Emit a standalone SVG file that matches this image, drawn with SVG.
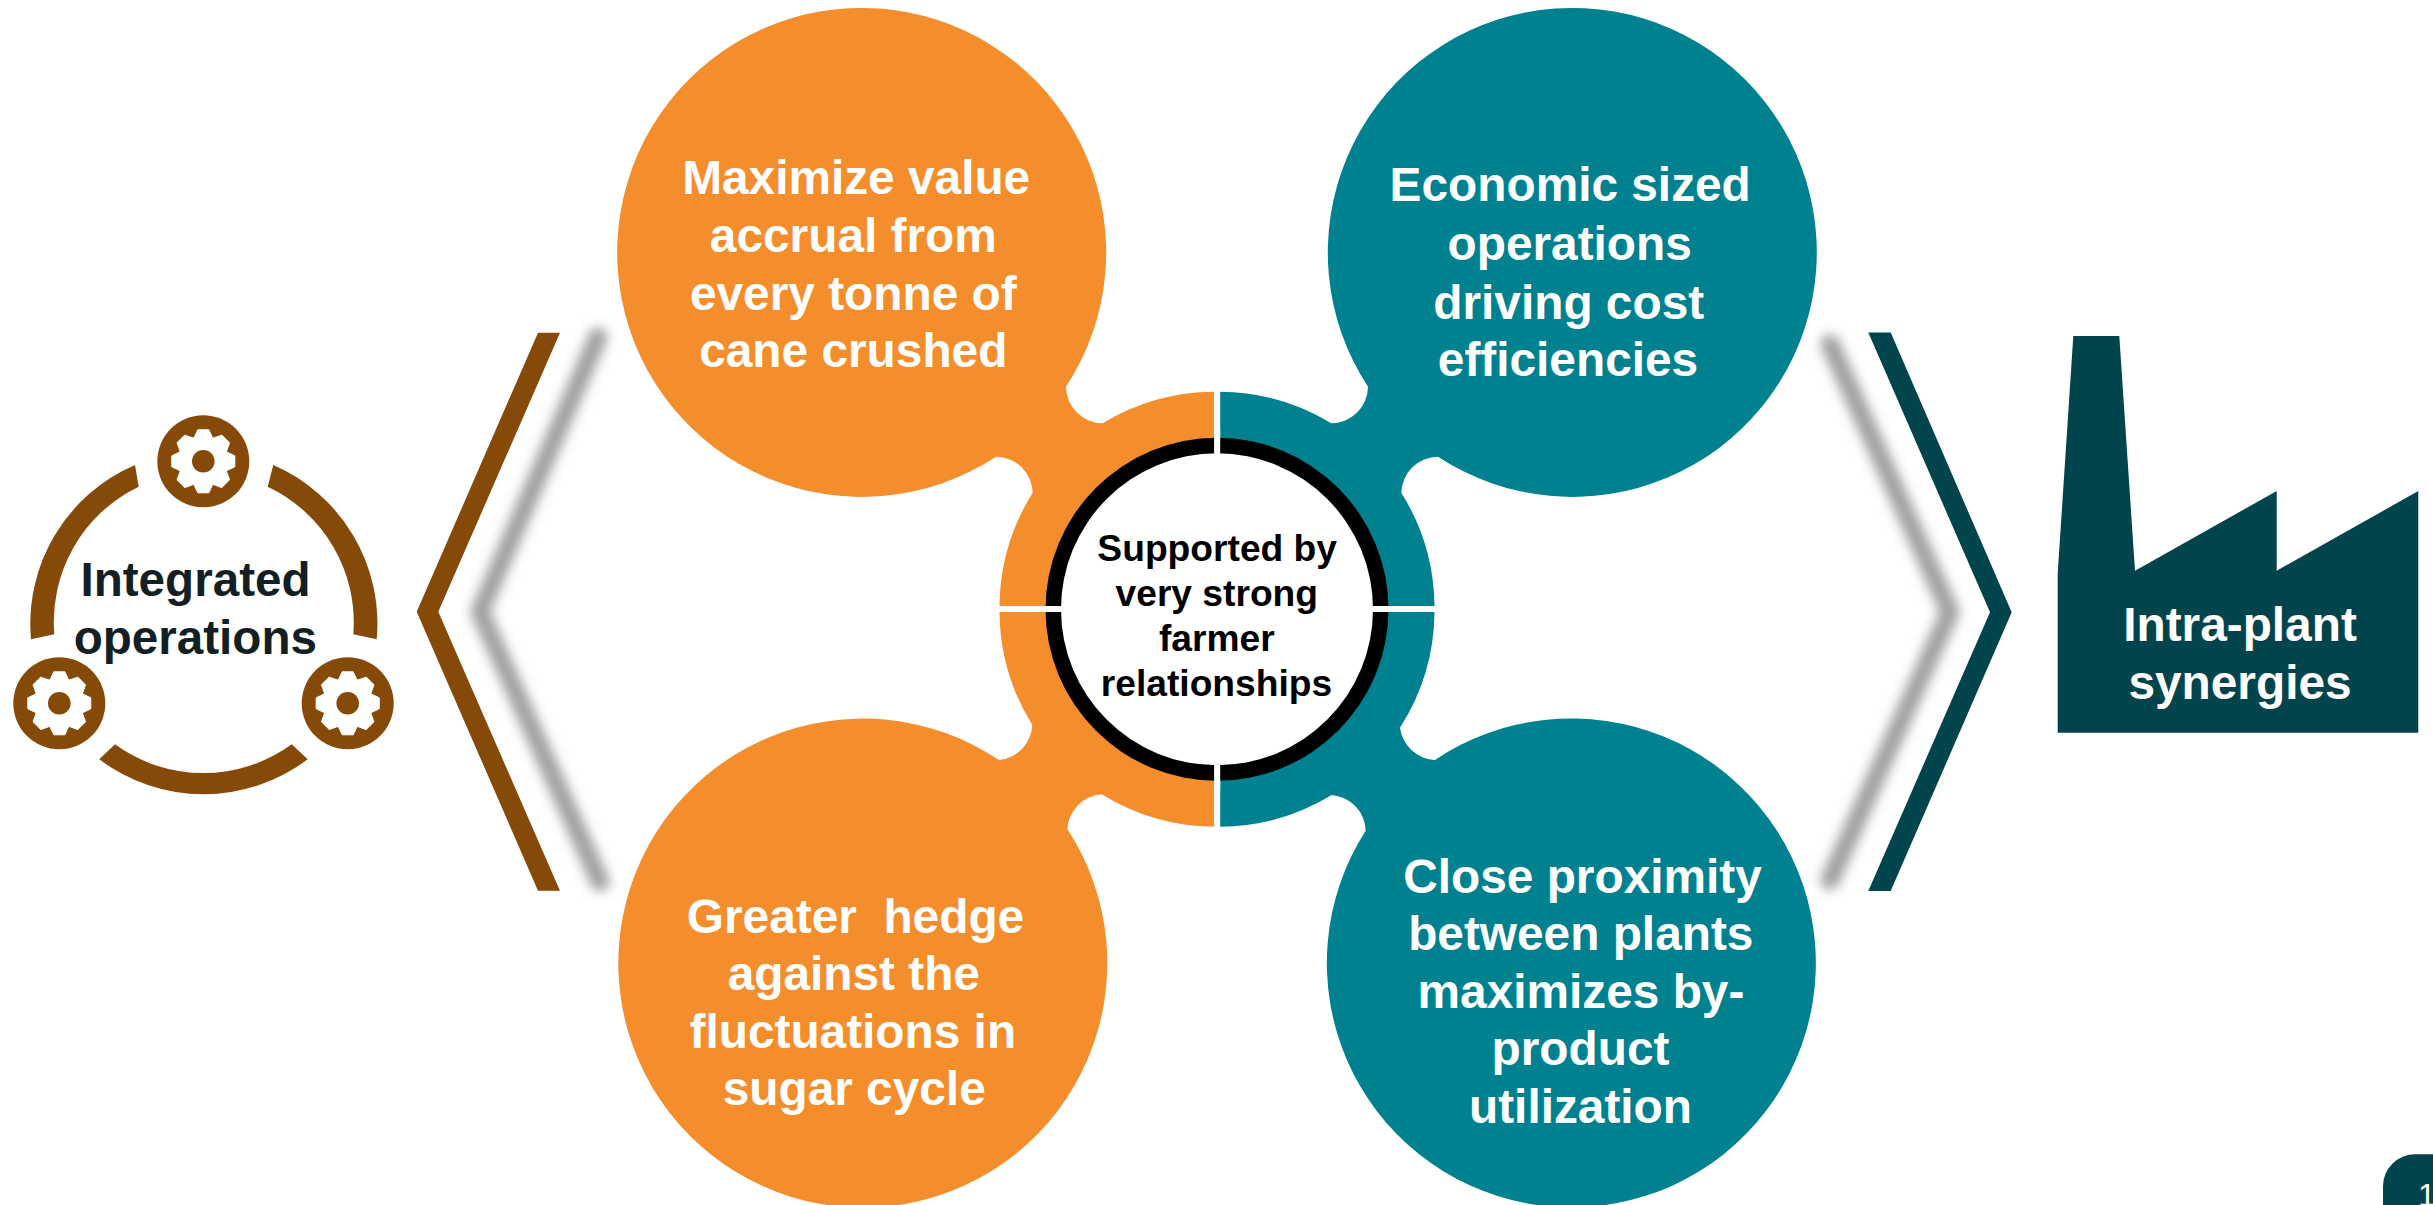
<svg xmlns="http://www.w3.org/2000/svg" xmlns:xlink="http://www.w3.org/1999/xlink" width="2433" height="1205" viewBox="0 0 2433 1205">
<style>
text{font-family:"Liberation Sans",Arial,sans-serif;font-weight:700;text-anchor:middle}
.lbl{font-size:47.8px;fill:#fff}
.hubt{font-size:37.2px;fill:#000}
.dark{font-size:47.6px;fill:#131f22}
.or{fill:#f48d2c}
.te{fill:#00818f}
.br{fill:#864a08}
.dk{fill:#02444b}
.sh{fill:none;stroke:#a0a0a0;stroke-width:19;stroke-linejoin:round;stroke-linecap:round;filter:url(#blur)}
</style>
<defs>
<filter id="blur" x="-30%" y="-10%" width="160%" height="120%"><feGaussianBlur stdDeviation="6"/></filter>
<path id="tooth" d="M-9.5,-23 L-5.5,-31.5 L5.5,-31.5 L9.5,-23Z" fill="#fff" stroke="#fff" stroke-width="1" stroke-linejoin="round"/>
<g id="gear">
<circle r="46" class="br"/>
<circle r="25.5" fill="#fff"/>
<use xlink:href="#tooth"/><use xlink:href="#tooth" transform="rotate(45)"/><use xlink:href="#tooth" transform="rotate(90)"/><use xlink:href="#tooth" transform="rotate(135)"/><use xlink:href="#tooth" transform="rotate(180)"/><use xlink:href="#tooth" transform="rotate(225)"/><use xlink:href="#tooth" transform="rotate(270)"/><use xlink:href="#tooth" transform="rotate(315)"/>
<circle r="11.3" class="br"/>
</g>
</defs>
<rect width="2433" height="1205" fill="#fff"/>

<g id="connectors">
<polyline class="sh" points="598,337 480,611.7 600,881.7"/>
<polyline class="sh" points="1830,344 1950,612 1830,880"/>
<polygon class="br" points="538,332.7 560,332.7 438.3,611.7 560,890.7 538,890.7 416.7,611.7"/>
<polygon class="dk" points="1868.3,332.5 1890.7,332.5 2011.7,612.3 1890.7,891 1868.3,891 1990,612.3"/>
</g>

<g id="integrated-operations">
<path class="br" d="M31,639.3 A172.8 172.8 0 0 1 135,465 L138.7,486.7 A150 150 0 0 0 54.3,634.3 Z"/>
<path class="br" d="M376.7,639.3 A172.8 172.8 0 0 0 273.3,465 L267.7,486.7 A150 150 0 0 1 353.3,634.3 Z"/>
<path class="br" d="M99.3,759.3 A172.8 172.8 0 0 0 307.7,759.3 L291.7,744.3 A150 150 0 0 1 115,744.3 Z"/>
<use xlink:href="#gear" x="203.3" y="461.3"/>
<use xlink:href="#gear" x="59.3" y="703.3"/>
<use xlink:href="#gear" x="347.7" y="703.3"/>
<text class="dark" x="195.5" y="596">Integrated</text>
<text class="dark" x="195.3" y="654.3">operations</text>
</g>

<g id="node-maximize">
<path class="or" d="M1214.1,391.8 A217.5 217.5 0 0 0 1102.7,423.3 A37 37 0 0 1 1066,386.7 A244.5 244.5 0 1 0 996,456.7 A37 37 0 0 1 1032.7,492.7 A217.5 217.5 0 0 0 999.5,606 L1214.1,606 Z"/>
<text class="lbl" x="856.2" y="193.5">Maximize value</text>
<text class="lbl" x="853.3" y="251.5">accrual from</text>
<text class="lbl" x="853.3" y="309.5">every tonne of</text>
<text class="lbl" x="853.3" y="367">cane crushed</text>
</g>

<g id="node-economic">
<path class="te" d="M1220.2,391.8 A217.5 217.5 0 0 1 1331.3,423.3 A37 37 0 0 0 1368,386.7 A244.5 244.5 0 1 1 1438,456.7 A37 37 0 0 0 1401.3,492.7 A217.5 217.5 0 0 1 1434.5,606 L1220.2,606 Z"/>
<text class="lbl" x="1570.2" y="200.5">Economic sized</text>
<text class="lbl" x="1569.7" y="260">operations</text>
<text class="lbl" x="1568.7" y="318.5">driving cost</text>
<text class="lbl" x="1568" y="376">efficiencies</text>
</g>

<g id="node-hedge">
<path class="or" d="M1214.1,826.8 A217.5 217.5 0 0 1 1101.7,794.3 A37 37 0 0 0 1067.3,829 A244.5 244.5 0 1 1 999,760 A37 37 0 0 0 1032.3,725 A217.5 217.5 0 0 1 999.5,612 L1214.1,612 Z"/>
<text class="lbl" x="855.5" y="932.5" style="white-space:pre">Greater  hedge</text>
<text class="lbl" x="853.8" y="990">against the</text>
<text class="lbl" x="852.8" y="1047.5">fluctuations in</text>
<text class="lbl" x="854.2" y="1105">sugar cycle</text>
</g>

<g id="node-proximity">
<path class="te" d="M1220.2,826.8 A217.5 217.5 0 0 0 1331.7,795 A37 37 0 0 1 1365.7,830.7 A244.5 244.5 0 1 0 1435,760 A37 37 0 0 1 1400,727.7 A217.5 217.5 0 0 0 1434.5,612 L1220.2,612 Z"/>
<text class="lbl" x="1582.5" y="892.5">Close proximity</text>
<text class="lbl" x="1580.8" y="950">between plants</text>
<text class="lbl" x="1581" y="1007.5">maximizes by-</text>
<text class="lbl" x="1580.5" y="1065">product</text>
<text class="lbl" x="1580.5" y="1122.5">utilization</text>
</g>

<g id="node-hub">
<circle cx="1217" cy="609.3" r="171.5" fill="#000"/>
<rect x="1214.1" y="430" width="6.1" height="360" fill="#fff"/>
<rect x="1040" y="606" width="354" height="6" fill="#fff"/>
<circle cx="1217" cy="609.3" r="156" fill="#fff"/>
<text class="hubt" x="1217.2" y="560.5">Supported by</text>
<text class="hubt" x="1216.8" y="605.5">very strong</text>
<text class="hubt" x="1216.8" y="650.5">farmer</text>
<text class="hubt" x="1216.5" y="695.5">relationships</text>
</g>

<g id="intra-plant-synergies">
<polygon class="dk" points="2073.3,336 2119.3,336 2135,570.7 2276.7,491 2276.7,570.7 2418.3,491 2418.3,732.7 2057.7,732.7 2057.7,573.3"/>
<text x="2240" y="641" style="font-size:47.8px;fill:#fff">Intra-plant</text>
<text x="2240" y="698.7" style="font-size:47.8px;fill:#fff">synergies</text>
</g>

<g id="page-number">
<rect class="dk" x="2383" y="1154.3" width="90" height="90" rx="32"/>
<text x="2427" y="1206" style="font-size:32px;font-weight:400;fill:#fff">1</text>
</g>
</svg>
